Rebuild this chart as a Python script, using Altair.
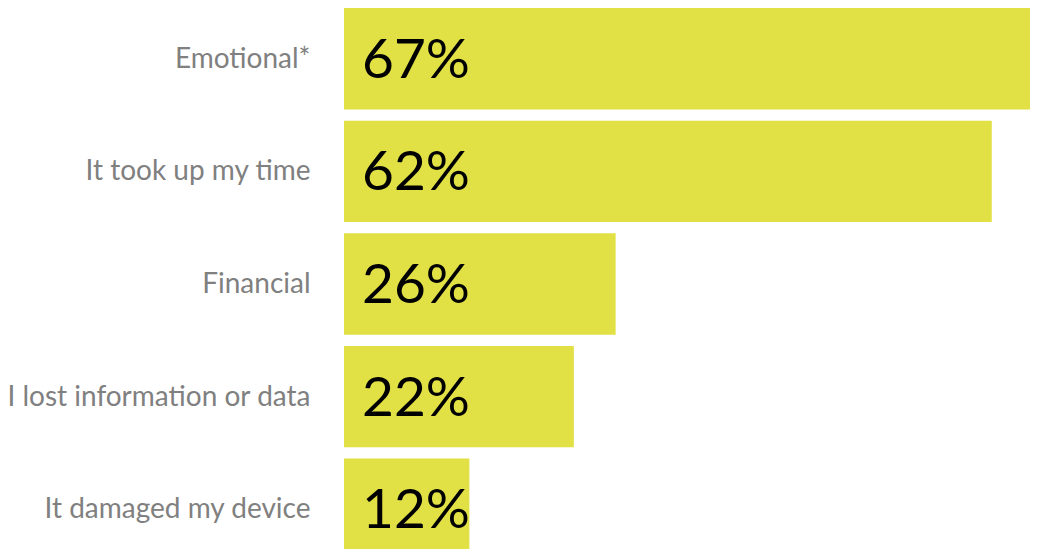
import altair as alt
import pandas as pd

categories = ["Emotional*", "It took up my time", "Financial", "I lost information or data", "It damaged my device"]
values = [67, 62, 26, 22, 12]
labels = [f"{v}%" for v in values]

df = pd.DataFrame({"category": categories, "value": values, "label": labels})

y_enc = alt.Y(
    "category:N",
    sort=categories,
    scale=alt.Scale(range=[0, 552], paddingInner=0.1, paddingOuter=0),
    axis=alt.Axis(
        title=None, ticks=False, domain=False, labelFontSize=28,
        labelColor="#808080", labelFont="Lato", labelPadding=34, labelLimit=0,
        labelOffset=1,
    ),
)

bars = alt.Chart(df).mark_bar(color="#E1E045").encode(
    x=alt.X("value:Q", scale=alt.Scale(domain=[0, 67], range=[0, 700]), axis=None),
    y=y_enc,
)

text = alt.Chart(df).mark_text(
    align="left", baseline="middle", font="Lato", fontSize=55, color="#000000", dy=2
).encode(
    x=alt.value(18),
    y=alt.Y("category:N", sort=categories),
    text="label:N",
)

chart = alt.layer(bars, text).properties(
    width=686, height=541,
    autosize=alt.AutoSizeParams(type="none"),
    padding={"left": 336, "top": 0, "right": 0, "bottom": 0},
).configure_view(stroke=None).configure_axis(grid=False)

chart.save("out.html", embed_options={"renderer": "svg", "actions": False})
